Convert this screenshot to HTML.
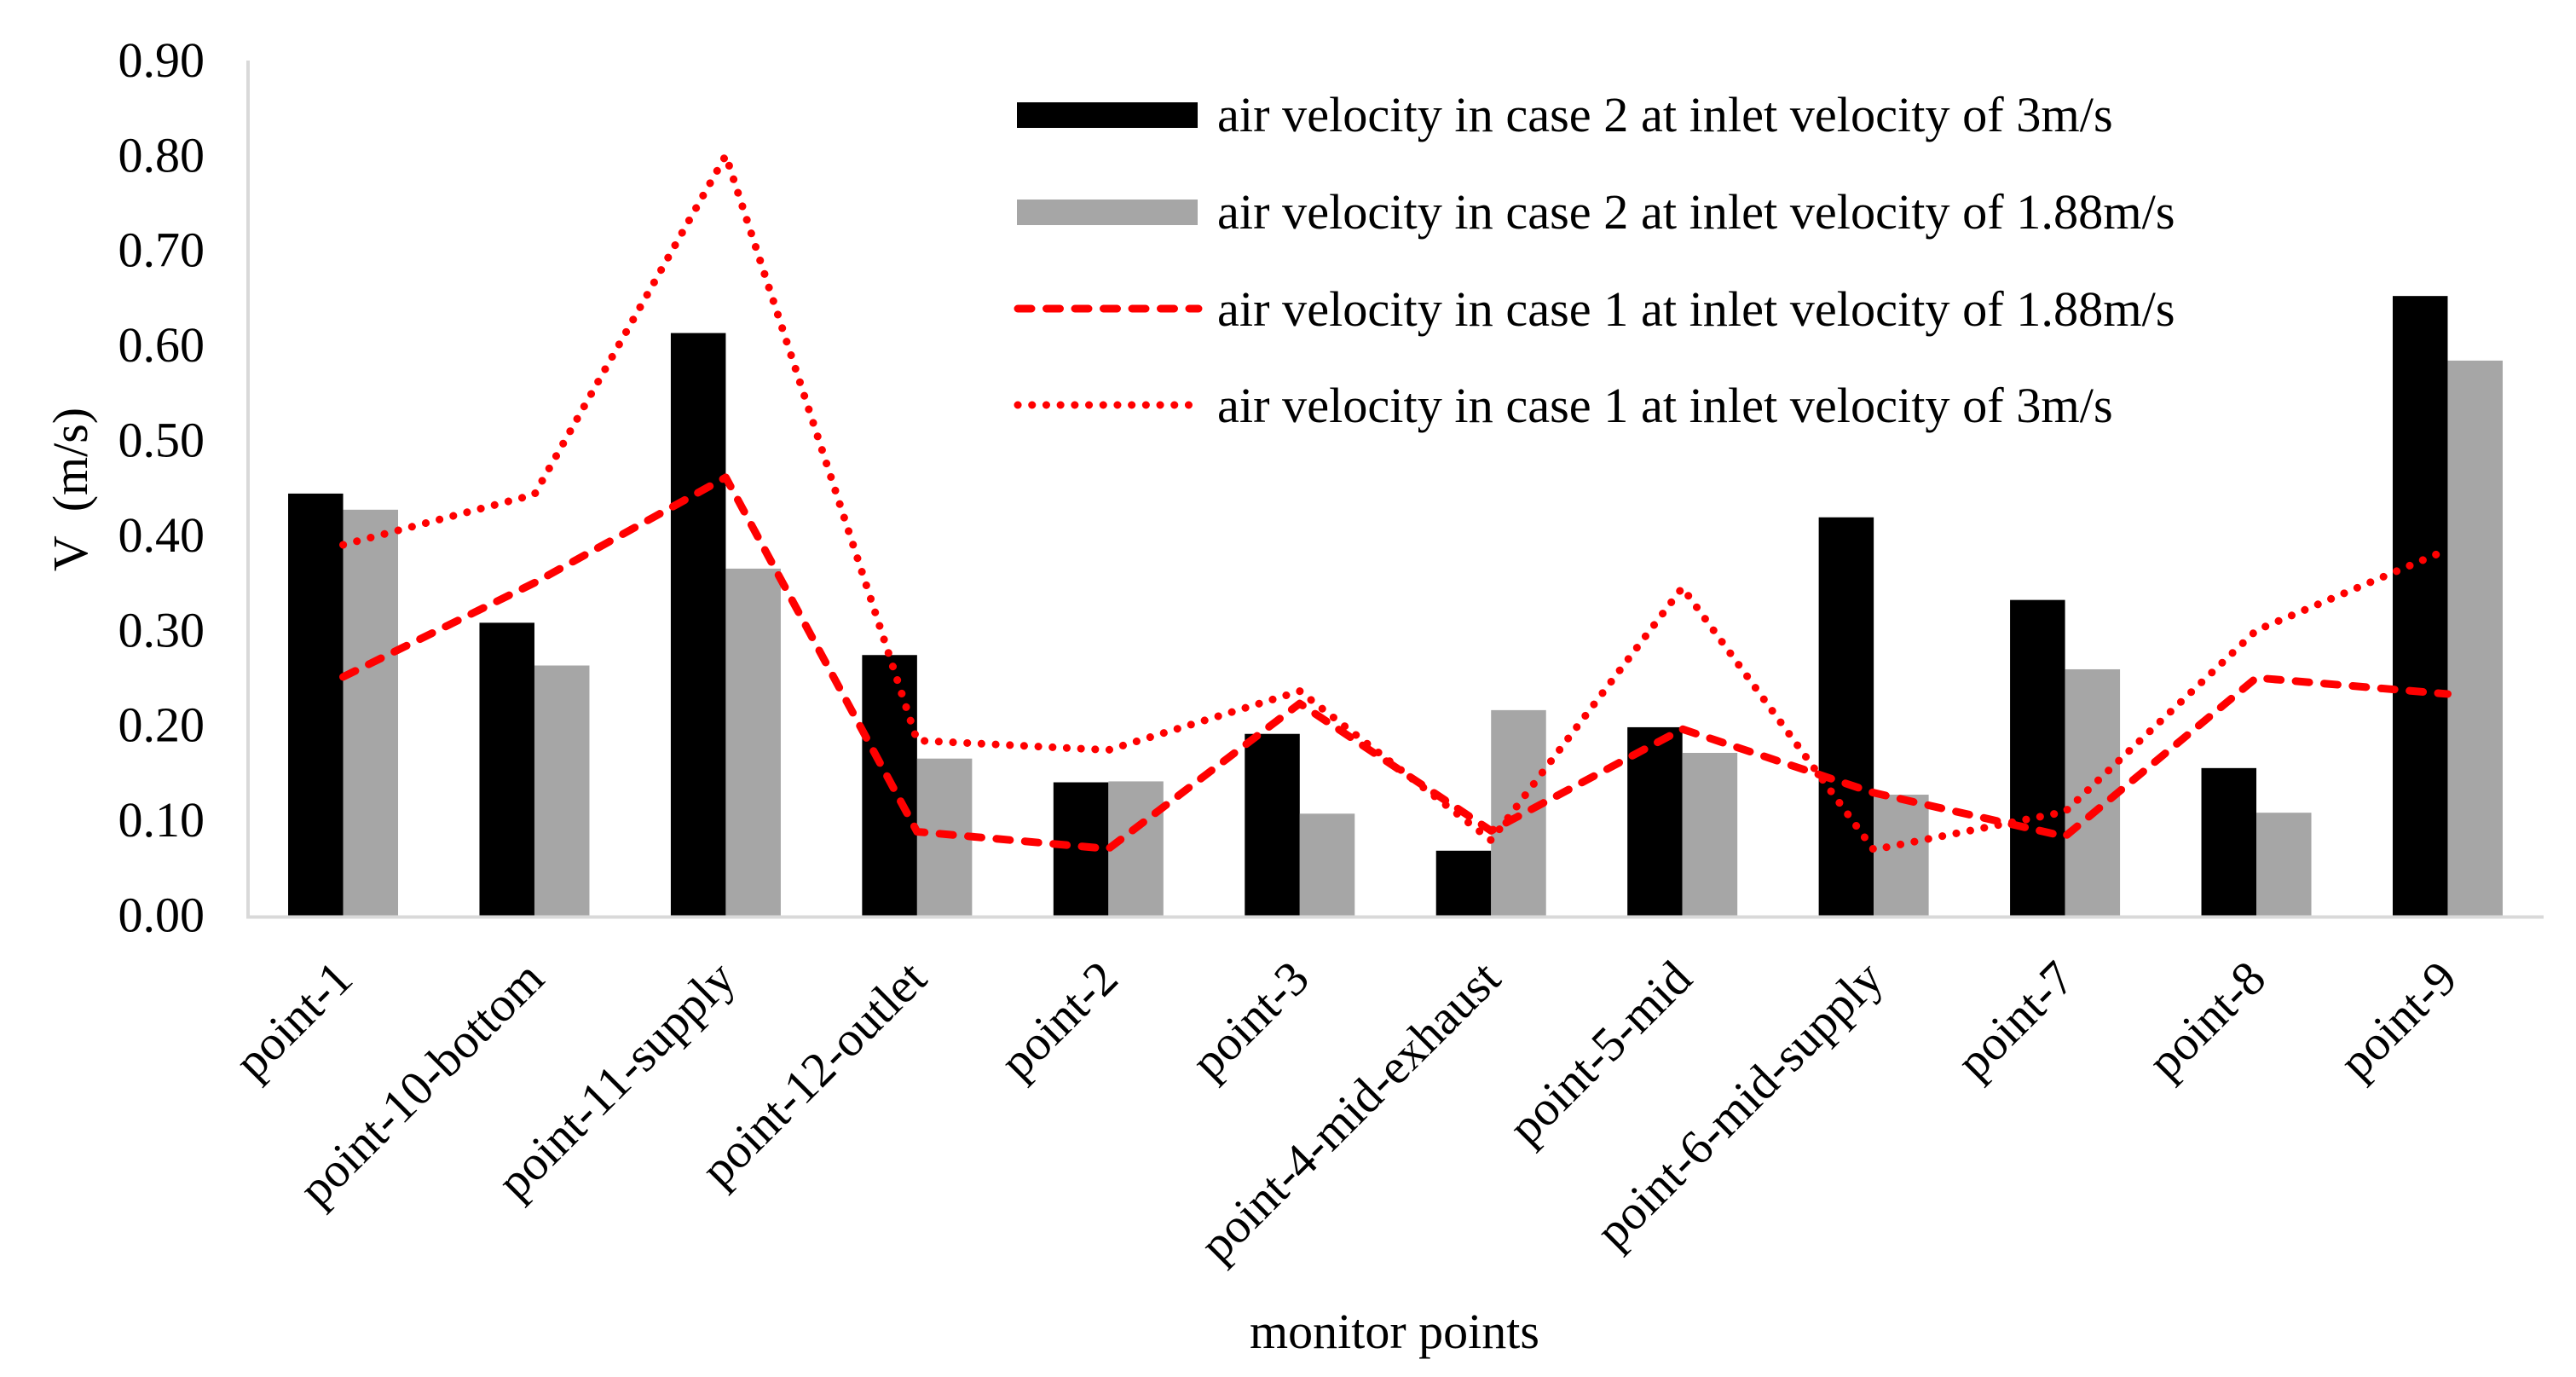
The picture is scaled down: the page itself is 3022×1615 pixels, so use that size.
<!DOCTYPE html>
<html>
<head>
<meta charset="utf-8">
<title>Air velocity at monitor points</title>
<style>
html,body{margin:0;padding:0;background:#fff;}
#chart{display:block;width:3022px;height:1615px;}
text{font-family:"Liberation Serif","Times New Roman",serif;font-size:58px;fill:#000;white-space:pre;}
text.legend-text{font-size:58.3px;}
text.cat-text{font-size:57.5px;}
</style>
</head>
<body>
<svg id="chart" xmlns="http://www.w3.org/2000/svg" width="3022" height="1615" viewBox="0 0 3022 1615">
  <rect x="0" y="0" width="3022" height="1615" fill="#fff"/>
  <g id="bars"></g>
  <line x1="291" y1="71" x2="291" y2="1076" stroke="#d9d9d9" stroke-width="4"/>
  <line x1="289" y1="1075.5" x2="2984" y2="1075.5" stroke="#d9d9d9" stroke-width="4"/>
  <g id="lines"></g>
  <g id="y-ticks"></g>
  <g id="x-ticks"></g>
  <text x="102" y="574" text-anchor="middle" transform="rotate(-90 102 574)">V  (m/s)</text>
  <text x="1636" y="1581" text-anchor="middle">monitor points</text>
  <g>
    <g>
      <rect x="1193" y="120" width="212" height="30" fill="#000"/>
      <text class="legend-text" x="1428" y="154">air velocity in case 2 at inlet velocity of 3m/s</text>
    </g>
    <g>
      <rect x="1193" y="234" width="212" height="30" fill="#a6a6a6"/>
      <text class="legend-text" x="1428" y="268">air velocity in case 2 at inlet velocity of 1.88m/s</text>
    </g>
    <g>
      <line x1="1194" y1="362" x2="1406" y2="362" stroke="#f00" stroke-width="9" stroke-linecap="round" stroke-dasharray="16 17.5"/>
      <text class="legend-text" x="1428" y="382">air velocity in case 1 at inlet velocity of 1.88m/s</text>
    </g>
    <g>
      <line x1="1194" y1="475" x2="1396" y2="475" stroke="#f00" stroke-width="9" stroke-linecap="round" stroke-dasharray="0.1 16.6"/>
      <text class="legend-text" x="1428" y="495">air velocity in case 1 at inlet velocity of 3m/s</text>
    </g>
  </g>
</svg>
<script>
const categories = ["point-1","point-10-bottom","point-11-supply","point-12-outlet","point-2","point-3","point-4-mid-exhaust","point-5-mid","point-6-mid-supply","point-7","point-8","point-9"];
const case2Inlet3 = [0.444,0.308,0.613,0.274,0.140,0.191,0.068,0.198,0.419,0.332,0.155,0.652];
const case2Inlet188 = [0.427,0.263,0.365,0.165,0.141,0.107,0.216,0.171,0.127,0.259,0.108,0.584];
const case1Inlet188 = [0.251,0.350,0.461,0.088,0.070,0.223,0.089,0.196,0.129,0.083,0.250,0.233];
const case1Inlet3 = [0.390,0.443,0.800,0.184,0.174,0.236,0.079,0.345,0.069,0.109,0.300,0.385];
const yTickLabels = ["0.00","0.10","0.20","0.30","0.40","0.50","0.60","0.70","0.80","0.90"];

const NS = "http://www.w3.org/2000/svg";
const plotLeft = 290.3, catWidth = 224.45, barWidth = 64.5;
const yZero = 1073.5, yPerUnit = 1114;
function xCenter(i){ return plotLeft + catWidth * (i + 0.5); }
function yScale(v){ return yZero - v * yPerUnit; }

const barsGroup = document.getElementById("bars");
function drawBars(values, color, offset, label){
  values.forEach(function(v, i){
    const r = document.createElementNS(NS, "rect");
    r.setAttribute("x", xCenter(i) + offset);
    r.setAttribute("y", yScale(v));
    r.setAttribute("width", barWidth);
    r.setAttribute("height", yZero - yScale(v));
    r.setAttribute("fill", color);
    
    
    barsGroup.appendChild(r);
  });
}
drawBars(case2Inlet3, "#000", -barWidth, "case2-3ms");
drawBars(case2Inlet188, "#a6a6a6", 0, "case2-188ms");

const linesGroup = document.getElementById("lines");
function drawLine(values, dash, label){
  const p = document.createElementNS(NS, "polyline");
  p.setAttribute("points", values.map(function(v, i){ return xCenter(i) + "," + yScale(v); }).join(" "));
  p.setAttribute("fill", "none");
  p.setAttribute("stroke", "#f00");
  p.setAttribute("stroke-width", "9");
  p.setAttribute("stroke-linecap", "round");
  p.setAttribute("stroke-linejoin", "round");
  p.setAttribute("stroke-dasharray", dash);
  
  
  linesGroup.appendChild(p);
}
drawLine(case1Inlet188, "16 17.5", "case1-188ms");
drawLine(case1Inlet3, "0.1 16.6", "case1-3ms");

const yTicksGroup = document.getElementById("y-ticks");
yTickLabels.forEach(function(lbl){
  const t = document.createElementNS(NS, "text");
  t.setAttribute("x", 240);
  t.setAttribute("y", yScale(parseFloat(lbl)) + 19);
  t.setAttribute("text-anchor", "end");
  t.textContent = lbl;
  
  
  yTicksGroup.appendChild(t);
});

const xTicksGroup = document.getElementById("x-ticks");
categories.forEach(function(c, i){
  const t = document.createElementNS(NS, "text");
  const ax = xCenter(i) + 14, ay = 1151;
  t.setAttribute("class", "cat-text");
  t.setAttribute("x", ax);
  t.setAttribute("y", ay);
  t.setAttribute("text-anchor", "end");
  t.setAttribute("transform", "rotate(-45 " + ax + " " + ay + ")");
  t.textContent = c;
  
  
  xTicksGroup.appendChild(t);
});
</script>
</body>
</html>
